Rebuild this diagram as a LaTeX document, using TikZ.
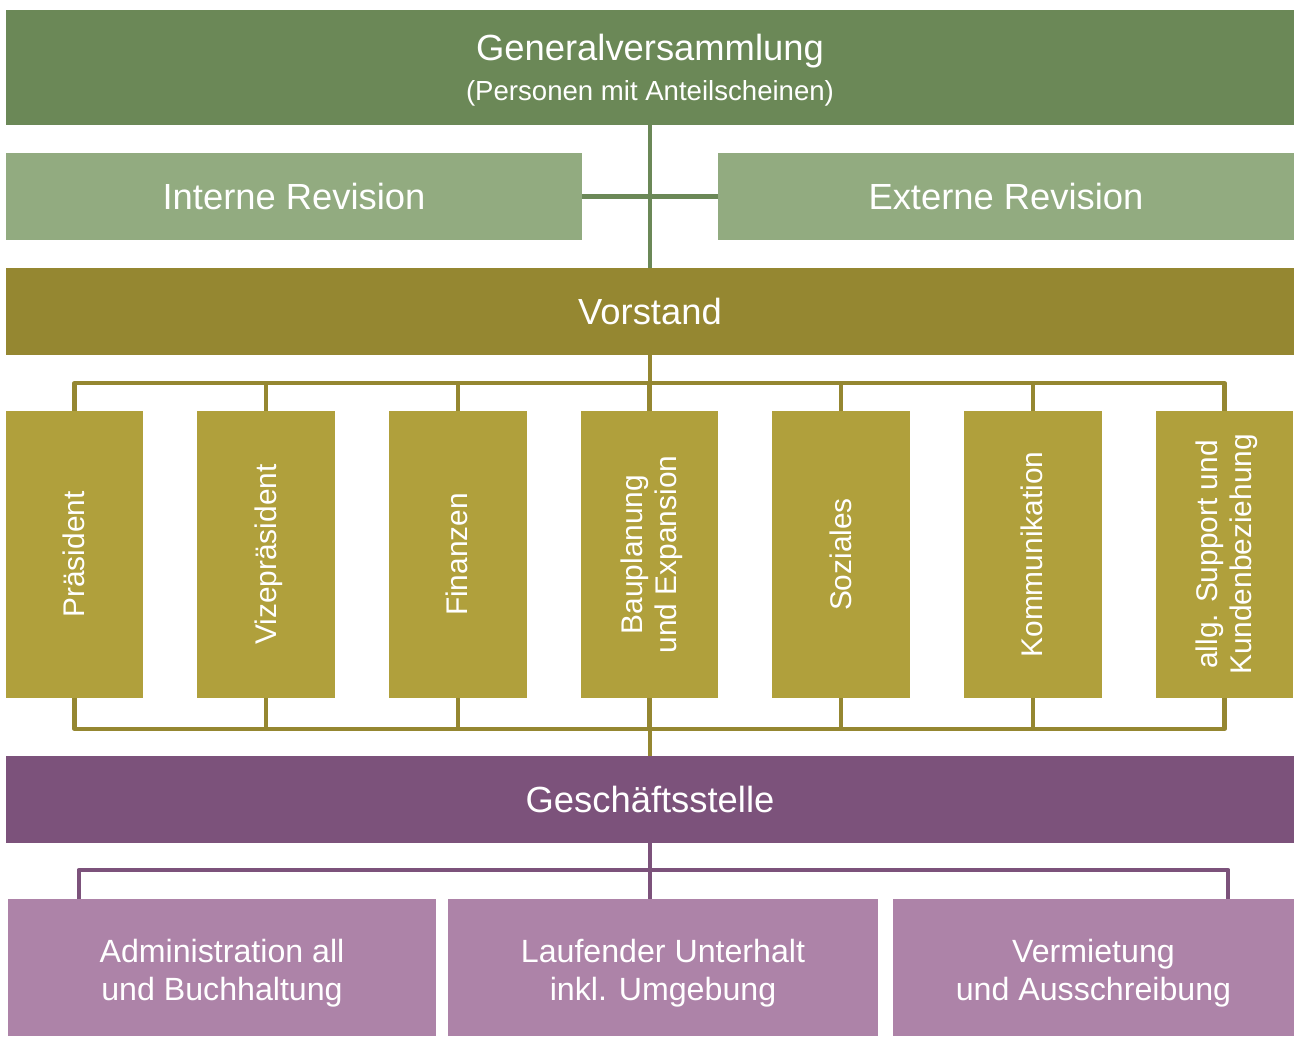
\documentclass[tikz,border=0pt]{standalone}
\usepackage{fontspec}
\setmainfont{Liberation Sans}
\usetikzlibrary{positioning}

\definecolor{gvgreen}{HTML}{6B8857}
\definecolor{revgreen}{HTML}{92AB80}
\definecolor{vsolive}{HTML}{958731}
\definecolor{resolive}{HTML}{B0A03C}
\definecolor{gspurple}{HTML}{7C527B}
\definecolor{abtpurple}{HTML}{AD83A8}

% vertical text in the Ressort boxes
\newcommand{\vtext}[1]{\hspace*{3.4pt}\rotatebox{90}{\begin{tabular}{@{}c@{}}#1\end{tabular}}}
% two-line text of the Abteilungen, set a bit below the middle
\newcommand{\htext}[1]{\raisebox{-8pt}[0pt][0pt]{\begin{tabular}{@{}c@{}}#1\end{tabular}}}

\tikzset{
  box/.style={inner sep=0pt, text=white, align=center},
  bar/.style={box, minimum width=25.76cm, minimum height=1.74cm,
    font=\fontsize{20.7}{24}\selectfont},
  rev/.style={box, fill=revgreen, minimum width=11.52cm, minimum height=1.74cm,
    font=\fontsize{20.7}{24}\selectfont},
  ressort/.style={box, fill=resolive, minimum width=2.76cm, minimum height=5.74cm,
    font=\fontsize{17}{19.5}\selectfont},
  abt/.style={box, fill=abtpurple, minimum height=2.74cm,
    font=\fontsize{18.3}{21.5}\selectfont},
  conn/.style={line width=2.3pt, line join=round},
}

\begin{document}
\begin{tikzpicture}[x=0.02cm, y=-0.02cm]
    \useasboundingbox (0,0) rectangle (1296,1037);

    \node[bar, fill=gvgreen, minimum height=2.3cm, text depth=-0.5pt] (gv) at (650,67.5)
        {Generalversammlung\\[-1.5pt]{\fontsize{15.7}{18}\selectfont(Personen mit Anteilscheinen)}};
    \node[rev] (ir) at (294,196.5) {Interne Revision};
    \node[rev] (er) at (1006,196.5) {Externe Revision};
    \node[bar, fill=vsolive] (vs) at (650,311.5) {Vorstand};

    \node[ressort] (r1) at (74.5,554.5) {\vtext{Präsident}};
    \node[ressort, right=1.06cm of r1] (r2) {\vtext{Vizepräsident}};
    \node[ressort, right=1.06cm of r2] (r3) {\vtext{Finanzen}};
    \node[ressort, right=1.06cm of r3] (r4) {\vtext{Bauplanung\\und Expansion}};
    \node[ressort, right=1.06cm of r4] (r5) {\vtext{Soziales}};
    \node[ressort, right=1.06cm of r5] (r6) {\vtext{Kommunikation}};
    \node[ressort, right=1.06cm of r6] (r7) {\vtext{allg. Support und\\Kundenbeziehung}};

    \node[bar, fill=gspurple] (gs) at (650,799.5) {Geschäftsstelle};

    \node[abt, minimum width=8.56cm] (a1) at (222,967.5) {\htext{Administration all\\und Buchhaltung}};
    \node[abt, minimum width=8.6cm] (a2) at (663,967.5) {\htext{Laufender Unterhalt\\inkl. Umgebung}};
    \node[abt, minimum width=8.02cm] (a3) at (1093.5,967.5) {\htext{Vermietung\\und Ausschreibung}};

    % Generalversammlung - Revision - Vorstand
    \draw[conn, gvgreen] (gv.south) -- (gv.south |- vs.north);
    \draw[conn, gvgreen] (ir.east) -- (er.west);

    % Vorstand - Ressorts - Geschäftsstelle
    \coordinate (vo) at (650,383);
    \coordinate (vu) at (650,729);
    \draw[conn, vsolive] (vs.south) -- (vo);
    \foreach \i in {1,...,7} {
        \draw[conn, vsolive] (r\i.north) |- (vo);
        \draw[conn, vsolive] (r\i.south) |- (vu);
    }
    \draw[conn, vsolive] (vu) -- (gs.north);

    % Geschäftsstelle - Abteilungen
    \coordinate (gu) at (650,870);
    \draw[conn, gspurple] (gs.south) -- (gs.south |- a2.north);
    \draw[conn, gspurple] ([xshift=1.42cm]a1.north west) |- (gu)
        -| ([xshift=-1.32cm]a3.north east);
\end{tikzpicture}
\end{document}
